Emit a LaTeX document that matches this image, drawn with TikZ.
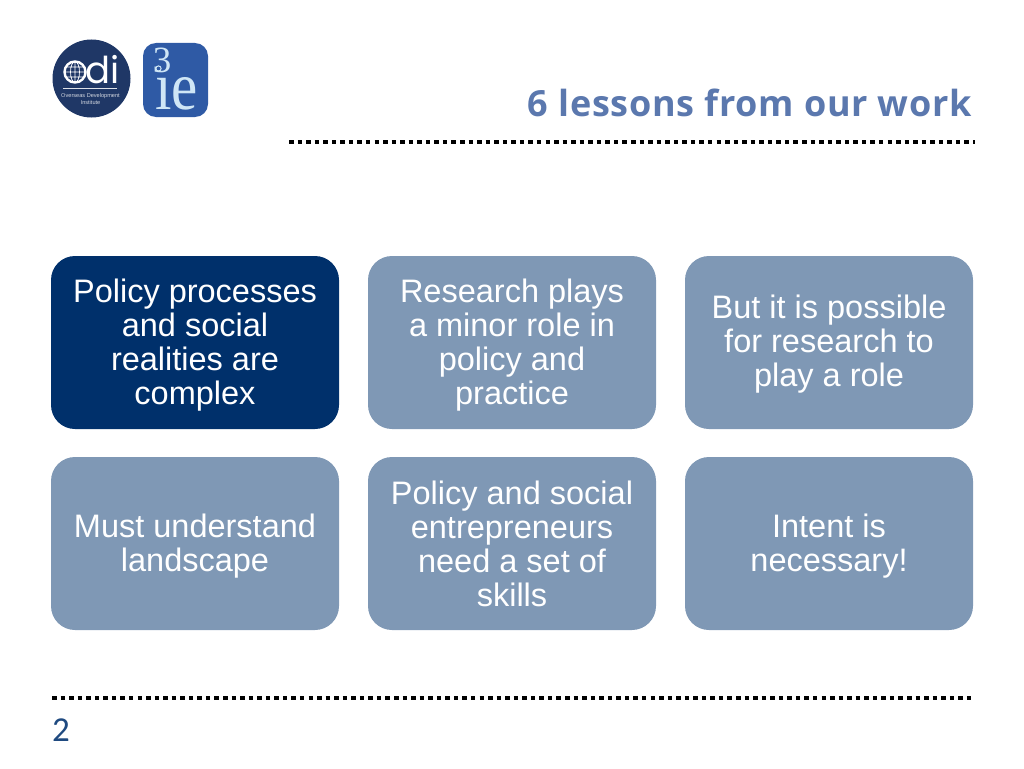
\documentclass[tikz,border=0pt]{standalone}
\usepackage{fontspec}
\setmainfont{Liberation Sans}
\newfontfamily\titlefont[LetterSpace=2]{Open Sans}
\newfontfamily\pagefont{Carlito}
\newfontfamily\logofont{Liberation Serif}
\newfontfamily\odifont{Poppins}
\definecolor{darkbox}{HTML}{00306B}
\definecolor{lightbox}{HTML}{7F98B5}
\definecolor{titleblue}{HTML}{5B78AE}
\definecolor{odiblue}{HTML}{1F3766}
\definecolor{ieblue}{HTML}{2F5AA5}
\definecolor{iepale}{HTML}{CFE6F6}
\definecolor{pageblue}{HTML}{1F4A80}
\tikzset{
	lessonbox/.style={draw=none,fill=lightbox,rounded corners=24,minimum width=288,minimum height=173,inner sep=0},
	lessontext/.style={inner sep=0,align=center,text=white,font=\fontsize{32.5}{34}\selectfont},
	rulerdots/.style={line width=4.5,dash pattern=on 4.5 off 4.05,black},
}
\begin{document}
\begin{tikzpicture}[x=1pt,y=-1pt]
\useasboundingbox (0,0) rectangle (1024,768);
% logos
\fill[odiblue] (91.5,78.5) circle (39);
\draw[white,line width=2.4] (75,72) circle (10.5);
\draw[white,line width=0.7] (75,72) ellipse (4.5 and 10.5) (64.5,72) -- (85.5,72) (66,67) -- (84,67) (66,77) -- (84,77) (75,61.5) -- (75,82.5);
\node[text=white,inner sep=0,font=\odifont\fontsize{37}{37}\selectfont,anchor=base west] (odiname) at (85.5,83.5) {di};
\draw[white!85!odiblue,line width=0.5] (63,88) -- (117,88);
\node[text=white!80!odiblue,inner sep=0,align=center,font=\fontsize{5.6}{6.4}\selectfont] (oditext) at (90.5,99) {Overseas Development\\Institute};
\fill[ieblue,rounded corners=13] (143,43) rectangle (208,117);
\node[text=iepale,inner sep=0,font=\logofont\fontsize{37}{37}\selectfont,anchor=base] (threemark) at (162,72) {3};
\draw[iepale,line width=1] (158.5,68.5) circle (2.6);
\node[text=iepale,inner sep=0,font=\logofont\fontsize{68}{68}\selectfont,anchor=base,xscale=0.87,transform shape] (iemark) at (176.5,109) {\i e};
% heading
\node[text=titleblue,inner sep=0,anchor=base east,font=\titlefont\bfseries\fontsize{36}{36}\selectfont] (heading) at (972,116.5) {6 lessons from our work};
\draw[rulerdots] (289,142) -- (975,142);
% lessons
\foreach \n/\x/\y/\c/\d/\t in {a/195/342.5/darkbox/-3/{Policy processes\\and social\\realities are\\complex},
	b/512/342.5/lightbox/-3/{Research plays\\a minor role in\\policy and\\practice},
	c/829/342.5/lightbox/-2/{But it is possible\\for research to\\play a role},
	d/195/543.5/lightbox/-3/{Must understand\\landscape},
	e/512/543.5/lightbox/0/{Policy and social\\entrepreneurs\\need a set of\\skills},
	f/829/543.5/lightbox/-3/{Intent is\\necessary!}}{
	\node[lessonbox,fill=\c] (\n) at (\x,\y) {};
	\node[lessontext,yshift=\d] (\n text) at (\n.center) {\t};
}
% footer
\draw[rulerdots] (52,698) -- (971,698);
\node[text=pageblue,inner sep=0,anchor=base west,font=\pagefont\fontsize{35}{35}\selectfont] (pagenum) at (52,741.5) {2};
\end{tikzpicture}
\end{document}
